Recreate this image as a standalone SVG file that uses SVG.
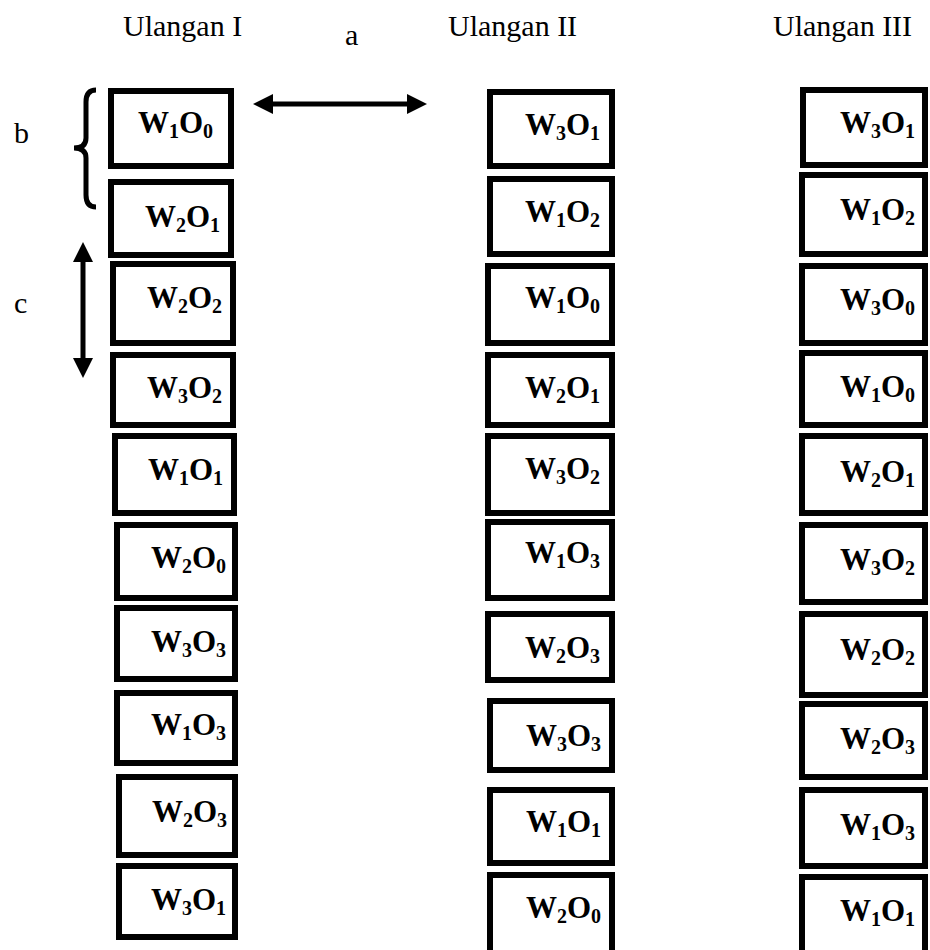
<svg xmlns="http://www.w3.org/2000/svg" width="930" height="950" viewBox="0 0 930 950">
<defs>
<style>
.box{fill:#fff;stroke:#000;stroke-width:6}
.lbl{font-family:"Liberation Serif","Times New Roman",serif;font-weight:bold;font-size:31px;fill:#000;text-anchor:end}
.s{font-size:20px}
.hdr{font-family:"Liberation Serif","Times New Roman",serif;font-size:30px;fill:#000}
.conn{stroke:#000;stroke-width:5;fill:none}
</style>
<marker id="ah" markerUnits="userSpaceOnUse" markerWidth="20" markerHeight="20" viewBox="0 0 20 20" refX="4" refY="10" orient="auto-start-reverse">
<path d="M0,0 L20,10 L0,20 z" fill="#000"/>
</marker>
</defs>
<rect x="0" y="0" width="930" height="950" fill="#fff"/>

<g id="headers">
<text class="hdr" x="123" y="36">Ulangan I</text>
<text class="hdr" x="345" y="45">a</text>
<text class="hdr" x="448" y="36">Ulangan II</text>
<text class="hdr" x="773" y="36">Ulangan III</text>
<text class="hdr" x="14" y="143">b</text>
<text class="hdr" x="14" y="313">c</text>
</g>

<g id="connectors">
<line class="conn" x1="269" y1="104" x2="411" y2="104" marker-start="url(#ah)" marker-end="url(#ah)"/>
<line class="conn" x1="83" y1="258" x2="83" y2="362" marker-start="url(#ah)" marker-end="url(#ah)"/>
<path class="conn" stroke-width="4.5" d="M96 90 Q86 90 86 102 L86 138 Q86 148 74 148 Q86 148 86 158 L86 195 Q86 207 96 207"/>
</g>

<g id="col1">
<g id="c1n1"><rect class="box" x="111" y="91" width="120" height="75"/><text class="lbl" x="213" y="133">W<tspan class="s" dy="5">1</tspan><tspan dy="-5">O</tspan><tspan class="s" dy="5">0</tspan></text></g>
<g id="c1n2"><rect class="box" x="111" y="182" width="120" height="73"/><text class="lbl" x="220" y="227">W<tspan class="s" dy="5">2</tspan><tspan dy="-5">O</tspan><tspan class="s" dy="5">1</tspan></text></g>
<g id="c1n3"><rect class="box" x="113" y="264" width="120" height="79"/><text class="lbl" x="222" y="308">W<tspan class="s" dy="5">2</tspan><tspan dy="-5">O</tspan><tspan class="s" dy="5">2</tspan></text></g>
<g id="c1n4"><rect class="box" x="113" y="355" width="120" height="70"/><text class="lbl" x="222" y="398">W<tspan class="s" dy="5">3</tspan><tspan dy="-5">O</tspan><tspan class="s" dy="5">2</tspan></text></g>
<g id="c1n5"><rect class="box" x="115" y="436" width="119" height="77"/><text class="lbl" x="223" y="480">W<tspan class="s" dy="5">1</tspan><tspan dy="-5">O</tspan><tspan class="s" dy="5">1</tspan></text></g>
<g id="c1n6"><rect class="box" x="117" y="525" width="118" height="73"/><text class="lbl" x="226" y="568">W<tspan class="s" dy="5">2</tspan><tspan dy="-5">O</tspan><tspan class="s" dy="5">0</tspan></text></g>
<g id="c1n7"><rect class="box" x="117" y="608" width="118" height="71"/><text class="lbl" x="226" y="652">W<tspan class="s" dy="5">3</tspan><tspan dy="-5">O</tspan><tspan class="s" dy="5">3</tspan></text></g>
<g id="c1n8"><rect class="box" x="117" y="693" width="118" height="70"/><text class="lbl" x="226" y="735">W<tspan class="s" dy="5">1</tspan><tspan dy="-5">O</tspan><tspan class="s" dy="5">3</tspan></text></g>
<g id="c1n9"><rect class="box" x="119" y="777" width="116" height="78"/><text class="lbl" x="227" y="822">W<tspan class="s" dy="5">2</tspan><tspan dy="-5">O</tspan><tspan class="s" dy="5">3</tspan></text></g>
<g id="c1n10"><rect class="box" x="119" y="866" width="116" height="71"/><text class="lbl" x="226" y="910">W<tspan class="s" dy="5">3</tspan><tspan dy="-5">O</tspan><tspan class="s" dy="5">1</tspan></text></g>
</g>

<g id="col2">
<g id="c2n1"><rect class="box" x="490" y="92" width="122" height="74"/><text class="lbl" x="600" y="135">W<tspan class="s" dy="5">3</tspan><tspan dy="-5">O</tspan><tspan class="s" dy="5">1</tspan></text></g>
<g id="c2n2"><rect class="box" x="490" y="179" width="122" height="75"/><text class="lbl" x="600" y="222">W<tspan class="s" dy="5">1</tspan><tspan dy="-5">O</tspan><tspan class="s" dy="5">2</tspan></text></g>
<g id="c2n3"><rect class="box" x="488" y="266" width="124" height="77"/><text class="lbl" x="600" y="308">W<tspan class="s" dy="5">1</tspan><tspan dy="-5">O</tspan><tspan class="s" dy="5">0</tspan></text></g>
<g id="c2n4"><rect class="box" x="488" y="355" width="124" height="70"/><text class="lbl" x="600" y="398">W<tspan class="s" dy="5">2</tspan><tspan dy="-5">O</tspan><tspan class="s" dy="5">1</tspan></text></g>
<g id="c2n5"><rect class="box" x="488" y="436" width="124" height="77"/><text class="lbl" x="600" y="479">W<tspan class="s" dy="5">3</tspan><tspan dy="-5">O</tspan><tspan class="s" dy="5">2</tspan></text></g>
<g id="c2n6"><rect class="box" x="488" y="522" width="124" height="76"/><text class="lbl" x="600" y="563">W<tspan class="s" dy="5">1</tspan><tspan dy="-5">O</tspan><tspan class="s" dy="5">3</tspan></text></g>
<g id="c2n7"><rect class="box" x="488" y="614" width="124" height="66"/><text class="lbl" x="600" y="658">W<tspan class="s" dy="5">2</tspan><tspan dy="-5">O</tspan><tspan class="s" dy="5">3</tspan></text></g>
<g id="c2n8"><rect class="box" x="490" y="701" width="122" height="69"/><text class="lbl" x="601" y="746">W<tspan class="s" dy="5">3</tspan><tspan dy="-5">O</tspan><tspan class="s" dy="5">3</tspan></text></g>
<g id="c2n9"><rect class="box" x="490" y="790" width="122" height="73"/><text class="lbl" x="601" y="832">W<tspan class="s" dy="5">1</tspan><tspan dy="-5">O</tspan><tspan class="s" dy="5">1</tspan></text></g>
<g id="c2n10"><rect class="box" x="490" y="875" width="122" height="78"/><text class="lbl" x="601" y="918">W<tspan class="s" dy="5">2</tspan><tspan dy="-5">O</tspan><tspan class="s" dy="5">0</tspan></text></g>
</g>

<g id="col3">
<g id="c3n1"><rect class="box" x="803" y="90" width="122" height="75"/><text class="lbl" x="915" y="133">W<tspan class="s" dy="5">3</tspan><tspan dy="-5">O</tspan><tspan class="s" dy="5">1</tspan></text></g>
<g id="c3n2"><rect class="box" x="802" y="175" width="123" height="79"/><text class="lbl" x="915" y="220">W<tspan class="s" dy="5">1</tspan><tspan dy="-5">O</tspan><tspan class="s" dy="5">2</tspan></text></g>
<g id="c3n3"><rect class="box" x="802" y="266" width="123" height="77"/><text class="lbl" x="915" y="310">W<tspan class="s" dy="5">3</tspan><tspan dy="-5">O</tspan><tspan class="s" dy="5">0</tspan></text></g>
<g id="c3n4"><rect class="box" x="802" y="353" width="123" height="72"/><text class="lbl" x="915" y="397">W<tspan class="s" dy="5">1</tspan><tspan dy="-5">O</tspan><tspan class="s" dy="5">0</tspan></text></g>
<g id="c3n5"><rect class="box" x="802" y="436" width="123" height="77"/><text class="lbl" x="915" y="482">W<tspan class="s" dy="5">2</tspan><tspan dy="-5">O</tspan><tspan class="s" dy="5">1</tspan></text></g>
<g id="c3n6"><rect class="box" x="802" y="525" width="123" height="77"/><text class="lbl" x="915" y="570">W<tspan class="s" dy="5">3</tspan><tspan dy="-5">O</tspan><tspan class="s" dy="5">2</tspan></text></g>
<g id="c3n7"><rect class="box" x="802" y="614" width="123" height="81"/><text class="lbl" x="915" y="660">W<tspan class="s" dy="5">2</tspan><tspan dy="-5">O</tspan><tspan class="s" dy="5">2</tspan></text></g>
<g id="c3n8"><rect class="box" x="802" y="704" width="123" height="73"/><text class="lbl" x="915" y="749">W<tspan class="s" dy="5">2</tspan><tspan dy="-5">O</tspan><tspan class="s" dy="5">3</tspan></text></g>
<g id="c3n9"><rect class="box" x="802" y="790" width="123" height="76"/><text class="lbl" x="915" y="835">W<tspan class="s" dy="5">1</tspan><tspan dy="-5">O</tspan><tspan class="s" dy="5">3</tspan></text></g>
<g id="c3n10"><rect class="box" x="802" y="877" width="123" height="78"/><text class="lbl" x="915" y="921">W<tspan class="s" dy="5">1</tspan><tspan dy="-5">O</tspan><tspan class="s" dy="5">1</tspan></text></g>
</g>
</svg>
